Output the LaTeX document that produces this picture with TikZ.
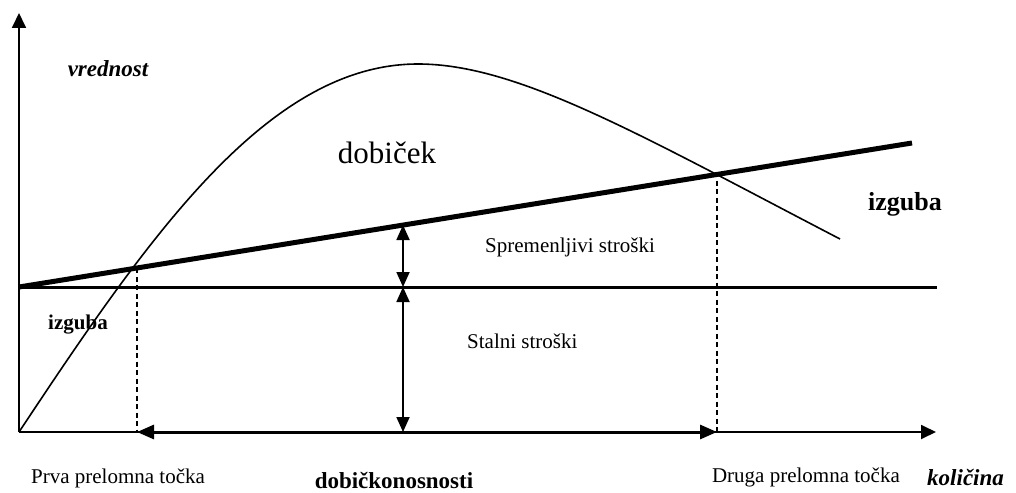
\documentclass[tikz,border=0pt]{standalone}
\usepackage{fontspec}
\setmainfont{Liberation Serif}
\usetikzlibrary{arrows.meta}
\tikzset{
  axis/.style={line width=1.8pt,-{Triangle[length=15pt,width=14pt]}},
  curve/.style={line width=1.6pt},
  thickline/.style={line width=5pt},
  fixedline/.style={line width=3pt},
  guide/.style={line width=1.6pt,dash pattern=on 5pt off 3.5pt},
  dimarrow/.style={line width=1.8pt,{Triangle[length=15pt,width=13pt]}-{Triangle[length=15pt,width=13pt]}},
  spanarrow/.style={line width=3pt,{Triangle[length=17pt,width=14pt]}-{Triangle[length=17pt,width=14pt]}},
  lbl/.style={inner sep=0pt,font=\fontsize{21}{25}\selectfont},
}
\begin{document}
\begin{tikzpicture}[x=1pt,y=-1pt]
\useasboundingbox (0,0) rectangle (1016,492);
% coordinates
\coordinate (O) at (19,432);
\coordinate (Ytip) at (19,13);
\coordinate (Xtip) at (936,432);
\coordinate (F0) at (19,287);
\coordinate (F1) at (937,287);
\coordinate (V1) at (912,143);
\coordinate (P1) at (137,268);
\coordinate (P2) at (717,172);
\coordinate (A1) at (137,432);
\coordinate (A2) at (717,432);
\coordinate (M1) at (403,225);
\coordinate (M2) at (403,287);
\coordinate (M3) at (403,432);
\coordinate (Peak) at (418,64);
\coordinate (Cend) at (840,239);
% axes
\draw[axis] (O) -- (Ytip);
\draw[axis] (O) -- (Xtip);
% fixed cost line
\draw[fixedline] (F0) -- (F1);
% variable (total) cost line
\draw[thickline] (F0) -- (V1);
% revenue curve
\draw[curve] (O) .. controls (149,236) and (268,64) .. (Peak)
             .. controls (518,64) and (640,135) .. (Cend);
% dashed guides
\draw[guide] (P1) -- (A1);
\draw[guide] (P2) -- (A2);
% span arrow on x-axis
\draw[spanarrow] (A1) -- (A2);
% vertical dimension arrows
\draw[dimarrow] (M1) -- (M2);
\draw[dimarrow] (M2) -- (M3);
% labels
\node[lbl,anchor=base,font=\fontsize{23}{27}\selectfont\bfseries\itshape] (vr) at (108,77) {vrednost};
\node[lbl,anchor=base,font=\fontsize{31}{36}\selectfont] (dob) at (387,163) {dobiček};
\node[lbl,anchor=base,font=\fontsize{26}{30}\selectfont\bfseries] (izg1) at (905,210) {izguba};
\node[lbl,anchor=base west] (spr) at (485,252) {Spremenljivi stroški};
\node[lbl,anchor=base west] (sta) at (467,348) {Stalni stroški};
\node[lbl,anchor=base,font=\fontsize{21}{25}\selectfont\bfseries] (izg2) at (78,329) {izguba};
\node[lbl,anchor=base] (prva) at (118,483) {Prva prelomna točka};
\node[lbl,anchor=base,font=\fontsize{23}{27}\selectfont\bfseries] (dk) at (394,488) {dobičkonosnosti};
\node[lbl,anchor=base east] (druga) at (900,482) {Druga prelomna točka};
\node[lbl,anchor=base west,font=\fontsize{23}{27}\selectfont\bfseries\itshape] (kol) at (927,485) {količina};
\end{tikzpicture}
\end{document}
